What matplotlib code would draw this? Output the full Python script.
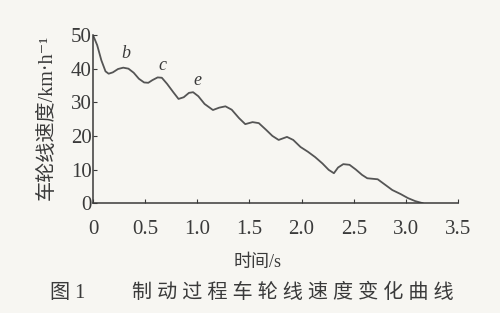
import numpy as np
import matplotlib
matplotlib.use("Agg")
import matplotlib.pyplot as plt

plt.rcParams['font.family'] = ['Liberation Serif', 'Noto Sans CJK SC', 'DejaVu Sans']

# wheel line speed during braking
t = [0.00, 0.04, 0.08, 0.12, 0.15, 0.19, 0.24, 0.29, 0.34, 0.39, 0.44, 0.49,
     0.53, 0.57, 0.62, 0.66, 0.71, 0.77, 0.82, 0.87, 0.92, 0.96, 1.01, 1.07,
     1.15, 1.21, 1.27, 1.33, 1.40, 1.46, 1.53, 1.59, 1.66, 1.72, 1.78, 1.86,
     1.92, 1.99, 2.06, 2.13, 2.20, 2.26, 2.31, 2.35, 2.40, 2.46, 2.52, 2.58,
     2.63, 2.73, 2.80, 2.87, 2.95, 3.02, 3.09, 3.16]
v = [50.0, 47.0, 42.5, 39.2, 38.5, 38.9, 39.9, 40.3, 40.0, 38.8, 37.0, 35.9,
     35.8, 36.6, 37.4, 37.3, 35.5, 33.0, 31.0, 31.5, 32.8, 33.0, 31.8, 29.5,
     27.7, 28.4, 28.8, 27.8, 25.3, 23.5, 24.1, 23.8, 21.8, 20.0, 18.8, 19.7,
     18.8, 16.7, 15.3, 13.7, 11.8, 9.9, 8.9, 10.6, 11.6, 11.4, 10.0, 8.4,
     7.4, 7.1, 5.5, 3.9, 2.7, 1.5, 0.6, 0.0]

peak_labels = ['b', 'c', 'e']
peak_label_t = [0.31, 0.67, 1.00]
peak_label_v = [44.6, 41.0, 36.6]

x_ticks = [0, 0.5, 1.0, 1.5, 2.0, 2.5, 3.0, 3.5]
x_tick_labels = ['0', '0.5', '1.0', '1.5', '2.0', '2.5', '3.0', '3.5']
y_ticks = [0, 10, 20, 30, 40, 50]

caption_num = '图 1'
caption = '制动过程车轮线速度变化曲线'

bg = '#f7f6f2'
ink = '#3a3a3a'

fig = plt.figure(figsize=(5, 3.13), dpi=100, facecolor=bg)
ax = fig.add_axes([0.186, 0.351, 0.73, 0.537], facecolor=bg)

ax.plot(t, v, color='#555555', lw=1.3)

for s, x, y in zip(peak_labels, peak_label_t, peak_label_v):
    ax.text(x, y, s, fontsize=13, style='italic', color=ink, ha='center', va='center')

ax.set_xlim(0, 3.5)
ax.set_ylim(0, 50)
ax.set_xticks(x_ticks)
ax.set_xticklabels(x_tick_labels)
ax.set_yticks(y_ticks)
for side in ('top', 'right'):
    ax.spines[side].set_visible(False)
for side in ('left', 'bottom'):
    ax.spines[side].set_color(ink)
    ax.spines[side].set_linewidth(1.1)
ax.tick_params(direction='in', length=3, width=0.8, colors=ink, labelsize=15)
ax.tick_params(axis='y', pad=1)
ax.tick_params(axis='x', pad=12)

ax.set_ylabel('车轮线速度/km·h⁻¹', fontsize=14.5, color=ink)
ax.yaxis.set_label_coords(-0.10, 0.51)
ax.set_xlabel('时间/s', fontsize=13, color=ink)
ax.xaxis.set_label_coords(0.452, -0.30)

fig.text(0.100, 0.063, caption_num, fontsize=14.5, color=ink, ha='left', va='center')
fig.text(0.585, 0.063, ' '.join(caption), fontsize=14.5, color=ink,
         ha='center', va='center')

fig.savefig('out.png', dpi=100, facecolor=bg)
